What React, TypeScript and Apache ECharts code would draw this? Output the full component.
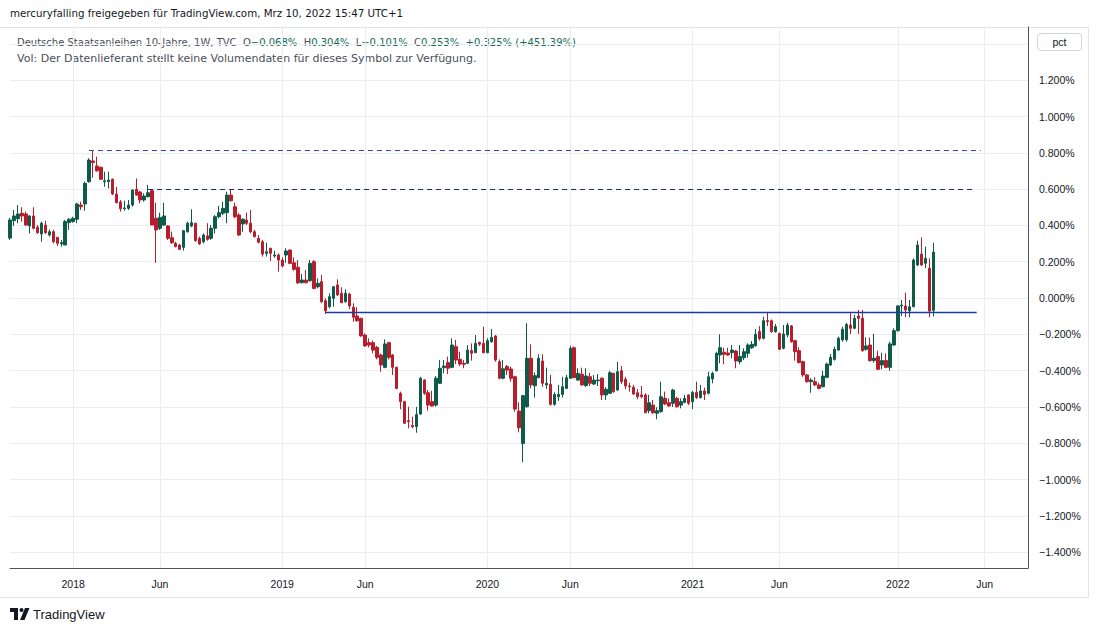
import React, { useEffect, useRef } from "react";
import * as echarts from "echarts";

// ---------- data ----------
const FIRST_WEEK = "2017-09-11";
const EMPTY_WEEKS_AFTER = 24;

// weekly candles: [open, close, low, high] in %
const candles2017 = [
  [0.33, 0.43, 0.32, 0.44], [0.426, 0.452, 0.397, 0.485], [0.437, 0.463, 0.412, 0.512],
  [0.467, 0.452, 0.421, 0.5], [0.463, 0.402, 0.397, 0.476], [0.397, 0.452, 0.356, 0.457],
  [0.452, 0.384, 0.378, 0.5], [0.39, 0.36, 0.353, 0.402], [0.353, 0.412, 0.31, 0.421],
  [0.402, 0.36, 0.353, 0.426], [0.347, 0.365, 0.338, 0.378], [0.365, 0.31, 0.301, 0.375],
  [0.334, 0.301, 0.287, 0.338], [0.298, 0.305, 0.283, 0.32], [0.292, 0.421, 0.292, 0.43],
  [0.415, 0.434, 0.375, 0.439],
];
const candles2018 = [
  [0.421, 0.439, 0.415, 0.448], [0.434, 0.518, 0.412, 0.525], [0.512, 0.503, 0.485, 0.531],
  [0.518, 0.632, 0.481, 0.641], [0.641, 0.76, 0.635, 0.77], [0.755, 0.746, 0.663, 0.812],
  [0.727, 0.701, 0.696, 0.779], [0.72, 0.654, 0.65, 0.724], [0.641, 0.646, 0.613, 0.696],
  [0.641, 0.65, 0.604, 0.696], [0.654, 0.573, 0.567, 0.659], [0.573, 0.525, 0.522, 0.613],
  [0.529, 0.492, 0.476, 0.54], [0.492, 0.496, 0.481, 0.536], [0.494, 0.512, 0.485, 0.54],
  [0.512, 0.595, 0.503, 0.599], [0.599, 0.567, 0.562, 0.659], [0.584, 0.54, 0.522, 0.591],
  [0.54, 0.562, 0.531, 0.577], [0.558, 0.58, 0.555, 0.623], [0.591, 0.402, 0.402, 0.595],
  [0.439, 0.375, 0.194, 0.525], [0.384, 0.444, 0.375, 0.47], [0.402, 0.452, 0.397, 0.525],
  [0.397, 0.329, 0.32, 0.402], [0.332, 0.305, 0.298, 0.365], [0.301, 0.283, 0.279, 0.31],
  [0.292, 0.268, 0.264, 0.298], [0.279, 0.371, 0.261, 0.375], [0.365, 0.412, 0.36, 0.421],
  [0.397, 0.415, 0.39, 0.489], [0.412, 0.316, 0.31, 0.415], [0.329, 0.298, 0.292, 0.338],
  [0.31, 0.347, 0.301, 0.356], [0.342, 0.323, 0.316, 0.412], [0.329, 0.384, 0.32, 0.402],
  [0.384, 0.448, 0.356, 0.457], [0.448, 0.47, 0.439, 0.507], [0.467, 0.494, 0.457, 0.531],
  [0.47, 0.567, 0.412, 0.586], [0.567, 0.536, 0.531, 0.599], [0.503, 0.448, 0.439, 0.525],
  [0.457, 0.347, 0.342, 0.467], [0.408, 0.434, 0.365, 0.439], [0.43, 0.412, 0.402, 0.47],
  [0.412, 0.365, 0.356, 0.485], [0.365, 0.338, 0.334, 0.375], [0.329, 0.307, 0.301, 0.347],
  [0.31, 0.242, 0.228, 0.32], [0.246, 0.255, 0.228, 0.305], [0.274, 0.246, 0.204, 0.277],
  [0.231, 0.237, 0.222, 0.259], [0.237, 0.209, 0.145, 0.246],
];
const candles2019 = [
  [0.209, 0.176, 0.169, 0.224], [0.237, 0.259, 0.194, 0.274], [0.264, 0.191, 0.187, 0.268],
  [0.194, 0.158, 0.15, 0.224], [0.169, 0.084, 0.077, 0.209], [0.084, 0.099, 0.081, 0.132],
  [0.099, 0.084, 0.081, 0.154], [0.095, 0.191, 0.09, 0.209], [0.2, 0.053, 0.048, 0.209],
  [0.062, 0.081, 0.053, 0.108], [0.09, -0.02, -0.029, 0.127], [-0.015, -0.07, -0.088, -0.002],
  [-0.048, 0.007, -0.057, 0.026], [-0.002, 0.062, -0.048, 0.066], [0.072, 0.017, 0.011, 0.103],
  [0.026, -0.026, -0.029, 0.059], [-0.02, 0.026, -0.026, 0.048], [0.022, -0.044, -0.062, 0.029],
  [-0.051, -0.106, -0.131, -0.029], [-0.099, -0.125, -0.131, -0.051], [-0.112, -0.209, -0.213, -0.109],
  [-0.204, -0.264, -0.268, -0.195], [-0.246, -0.259, -0.272, -0.222], [-0.246, -0.287, -0.305, -0.235],
  [-0.272, -0.327, -0.338, -0.264], [-0.314, -0.369, -0.406, -0.305], [-0.382, -0.253, -0.387, -0.228],
  [-0.246, -0.327, -0.338, -0.241], [-0.314, -0.382, -0.424, -0.309], [-0.382, -0.498, -0.503, -0.378],
  [-0.525, -0.571, -0.613, -0.516], [-0.571, -0.69, -0.694, -0.566], [-0.676, -0.681, -0.718, -0.599],
  [-0.702, -0.709, -0.718, -0.654], [-0.709, -0.642, -0.742, -0.6], [-0.639, -0.442, -0.645, -0.434],
  [-0.452, -0.525, -0.534, -0.448], [-0.522, -0.59, -0.62, -0.507], [-0.571, -0.595, -0.599, -0.511],
  [-0.59, -0.442, -0.599, -0.43], [-0.47, -0.387, -0.474, -0.342], [-0.384, -0.375, -0.415, -0.342],
  [-0.356, -0.387, -0.419, -0.323], [-0.382, -0.259, -0.387, -0.222], [-0.268, -0.342, -0.364, -0.231],
  [-0.338, -0.364, -0.375, -0.296], [-0.36, -0.365, -0.387, -0.342], [-0.36, -0.287, -0.364, -0.259],
  [-0.29, -0.305, -0.345, -0.25], [-0.301, -0.25, -0.305, -0.204], [-0.244, -0.255, -0.264, -0.241],
  [-0.25, -0.301, -0.305, -0.158],
];
const candles2020 = [
  [-0.301, -0.235, -0.305, -0.222], [-0.241, -0.217, -0.246, -0.171], [-0.209, -0.342, -0.351, -0.204],
  [-0.351, -0.442, -0.448, -0.338], [-0.442, -0.39, -0.448, -0.342], [-0.378, -0.397, -0.424, -0.369],
  [-0.391, -0.442, -0.461, -0.378], [-0.434, -0.612, -0.626, -0.428], [-0.623, -0.715, -0.74, -0.575],
  [-0.801, -0.538, -0.905, -0.534], [-0.599, -0.332, -0.604, -0.139], [-0.332, -0.479, -0.498, -0.255],
  [-0.483, -0.428, -0.549, -0.41], [-0.439, -0.332, -0.442, -0.31], [-0.347, -0.47, -0.489, -0.31],
  [-0.479, -0.47, -0.501, -0.384], [-0.476, -0.586, -0.593, -0.424], [-0.586, -0.531, -0.593, -0.52],
  [-0.544, -0.531, -0.567, -0.479], [-0.531, -0.489, -0.549, -0.434], [-0.498, -0.439, -0.501, -0.424],
  [-0.442, -0.277, -0.446, -0.263], [-0.274, -0.439, -0.442, -0.268], [-0.452, -0.415, -0.457, -0.387],
  [-0.42, -0.479, -0.483, -0.384], [-0.483, -0.43, -0.489, -0.387], [-0.434, -0.47, -0.485, -0.412],
  [-0.474, -0.452, -0.479, -0.424], [-0.456, -0.452, -0.485, -0.419], [-0.442, -0.534, -0.562, -0.437],
  [-0.534, -0.503, -0.562, -0.492], [-0.525, -0.412, -0.529, -0.401], [-0.415, -0.516, -0.522, -0.412],
  [-0.507, -0.406, -0.512, -0.351], [-0.401, -0.461, -0.474, -0.375], [-0.448, -0.485, -0.503, -0.434],
  [-0.485, -0.489, -0.516, -0.467], [-0.492, -0.529, -0.534, -0.479], [-0.522, -0.544, -0.558, -0.503],
  [-0.534, -0.544, -0.553, -0.485], [-0.534, -0.632, -0.635, -0.525], [-0.621, -0.577, -0.635, -0.534],
  [-0.59, -0.632, -0.639, -0.562], [-0.635, -0.621, -0.668, -0.602], [-0.626, -0.544, -0.632, -0.461],
  [-0.553, -0.584, -0.59, -0.516], [-0.577, -0.595, -0.599, -0.553], [-0.58, -0.507, -0.6, -0.5],
  [-0.553, -0.599, -0.604, -0.544], [-0.59, -0.571, -0.608, -0.553], [-0.575, -0.553, -0.58, -0.534],
  [-0.534, -0.58, -0.59, -0.531],
];
const candles2021 = [
  [-0.571, -0.52, -0.612, -0.512], [-0.52, -0.549, -0.556, -0.461], [-0.549, -0.512, -0.553, -0.479],
  [-0.512, -0.531, -0.562, -0.494], [-0.525, -0.434, -0.531, -0.406], [-0.446, -0.415, -0.47, -0.406],
  [-0.402, -0.305, -0.402, -0.296], [-0.314, -0.274, -0.36, -0.2], [-0.299, -0.31, -0.365, -0.274],
  [-0.303, -0.314, -0.318, -0.274], [-0.301, -0.287, -0.332, -0.259], [-0.292, -0.347, -0.387, -0.287],
  [-0.351, -0.323, -0.365, -0.259], [-0.329, -0.296, -0.342, -0.277], [-0.305, -0.259, -0.329, -0.25],
  [-0.274, -0.255, -0.281, -0.237], [-0.263, -0.2, -0.268, -0.171], [-0.185, -0.224, -0.235, -0.155],
  [-0.222, -0.125, -0.228, -0.103], [-0.125, -0.13, -0.154, -0.081], [-0.125, -0.186, -0.191, -0.118],
  [-0.186, -0.158, -0.191, -0.143], [-0.195, -0.283, -0.287, -0.191], [-0.277, -0.198, -0.283, -0.149],
  [-0.204, -0.149, -0.217, -0.136], [-0.154, -0.241, -0.246, -0.149], [-0.235, -0.296, -0.345, -0.231],
  [-0.29, -0.356, -0.36, -0.272], [-0.351, -0.424, -0.434, -0.345], [-0.424, -0.461, -0.467, -0.419],
  [-0.461, -0.452, -0.522, -0.442], [-0.461, -0.479, -0.485, -0.437], [-0.479, -0.498, -0.503, -0.467],
  [-0.489, -0.43, -0.492, -0.401], [-0.437, -0.364, -0.442, -0.356], [-0.369, -0.327, -0.375, -0.309],
  [-0.338, -0.283, -0.345, -0.268], [-0.287, -0.222, -0.29, -0.213], [-0.231, -0.172, -0.241, -0.158],
  [-0.23, -0.146, -0.241, -0.137], [-0.149, -0.167, -0.198, -0.084], [-0.167, -0.112, -0.172, -0.094],
  [-0.099, -0.112, -0.198, -0.066], [-0.112, -0.29, -0.296, -0.066], [-0.283, -0.264, -0.29, -0.217],
  [-0.259, -0.345, -0.351, -0.217], [-0.345, -0.332, -0.356, -0.198], [-0.323, -0.393, -0.397, -0.29],
  [-0.369, -0.345, -0.393, -0.301], [-0.345, -0.382, -0.387, -0.305], [-0.382, -0.253, -0.401, -0.241],
  [-0.259, -0.18, -0.264, -0.167],
];
const candles2022 = [
  [-0.18, -0.044, -0.186, -0.039], [-0.044, -0.039, -0.099, -0.011], [-0.044, -0.066, -0.106, 0.029],
  [-0.07, -0.048, -0.106, -0.011], [-0.048, 0.209, -0.051, 0.219], [0.182, 0.292, 0.176, 0.316],
  [0.242, 0.182, 0.176, 0.334], [0.191, 0.219, 0.164, 0.283], [0.164, -0.072, -0.106, 0.219],
  [-0.068, 0.253, -0.101, 0.304],
];

// horizontal drawn levels: [value, startWeekIndex, endWeekIndex]
const peakLevel = [0.812, 20, 246];
const resistanceLevel = [0.598, 35, 244];
const supportLevel = [-0.08, 80, 245];

// y axis ticks
const Y_MIN = -1.4;
const Y_MAX = 1.4;
const Y_STEP = 0.2;

// texts
const TITLE = "mercuryfalling freigegeben für TradingView.com, Mrz 10, 2022 15:47 UTC+1";
const SYMBOL = "Deutsche Staatsanleihen 10-Jahre, 1W, TVC";
const LAST_O = "−0.068%";
const LAST_H = "0.304%";
const LAST_L = "−0.101%";
const LAST_C = "0.253%";
const LAST_CHG = "+0.325% (+451.39%)";
const VOL_TEXT = "Vol: Der Datenlieferant stellt keine Volumendaten für dieses Symbol zur Verfügung.";

const allCandles = [
  ...candles2017, ...candles2018, ...candles2019, ...candles2020, ...candles2021, ...candles2022,
];

function buildWeeks(): string[] {
  const out: string[] = [];
  const t0 = Date.parse(FIRST_WEEK + "T00:00:00Z");
  const n = allCandles.length + EMPTY_WEEKS_AFTER;
  for (let i = 0; i < n; i++) out.push(new Date(t0 + i * 7 * 86400000).toISOString().slice(0, 10));
  return out;
}

const FONT = "'Liberation Sans', Arial, sans-serif";
const TFONT = "'DejaVu Sans', Verdana, sans-serif";
const GREEN = "#0e5b49";
const RED = "#b71d2a";
const TEXT = "#131722";
const GRIDC = "#ebedf1";

export default function App() {
  const ref = useRef<HTMLDivElement>(null);

  useEffect(() => {
    if (!ref.current) return;
    const chart = echarts.init(ref.current, undefined, { renderer: "svg" });
    const weeks = buildWeeks();
    const tickLabel = (i: number): string => {
      if (i <= 0 || i >= weeks.length) return "";
      const d = new Date(weeks[i] + "T00:00:00Z");
      const p = new Date(weeks[i - 1] + "T00:00:00Z");
      if (d.getUTCFullYear() !== p.getUTCFullYear()) return String(d.getUTCFullYear());
      if (d.getUTCMonth() !== p.getUTCMonth() && d.getUTCMonth() === 5) return "Jun";
      return "";
    };
    const fmtPct = (v: number) => {
      if (Math.abs(v) < 1e-9) return "0.000%";
      const s = Math.abs(v).toFixed(3) + "%";
      return v < 0 ? "−" + s : s;
    };
    const level = (lv: number[], color: string, type: any, width: number) => [
      { coord: [weeks[lv[1]], lv[0]], lineStyle: { color, type, width } },
      { coord: [weeks[lv[2]], lv[0]] },
    ];

    const option: any = {
      animation: false,
      backgroundColor: "#ffffff",
      grid: [
        { left: 10, right: 72, top: 27, bottom: 64 },
        { left: 10, right: 72, top: 43.9, bottom: 79.9 },
      ],
      xAxis: [
        {
          type: "category",
          gridIndex: 0,
          data: weeks,
          boundaryGap: false,
          axisLine: { show: true, lineStyle: { color: "#50535e", width: 1 } },
          axisTick: { show: false },
          axisLabel: {
            interval: (i: number) => tickLabel(i) !== "",
            formatter: (_v: string, i: number) => tickLabel(i),
            color: TEXT,
            fontSize: 10.5,
            fontFamily: FONT,
            margin: 10,
          },
          splitLine: {
            show: true,
            interval: (i: number) => tickLabel(i) !== "",
            lineStyle: { color: GRIDC, width: 1 },
          },
        },
        {
          type: "category",
          gridIndex: 1,
          data: weeks,
          boundaryGap: false,
          show: false,
        },
      ],
      yAxis: [
        {
          type: "value",
          gridIndex: 0,
          position: "right",
          min: 0,
          max: 1,
          axisLine: { show: true, lineStyle: { color: "#50535e", width: 1 } },
          axisLabel: { show: false },
          axisTick: { show: false },
          splitLine: { show: false },
        },
        {
          type: "value",
          gridIndex: 1,
          position: "right",
          min: Y_MIN,
          max: Y_MAX,
          interval: Y_STEP,
          axisLine: { show: false },
          axisTick: { show: false },
          axisLabel: {
            formatter: (v: number) => (Math.abs(v - Y_MAX) < 1e-9 ? "" : fmtPct(v)),
            color: TEXT,
            fontSize: 10.5,
            fontFamily: FONT,
            margin: 11,
          },
          splitLine: { show: true, lineStyle: { color: GRIDC, width: 1 } },
        },
      ],
      series: [
        {
          type: "candlestick",
          xAxisIndex: 1,
          yAxisIndex: 1,
          data: allCandles,
          barWidth: 3,
          itemStyle: {
            color: GREEN,
            color0: RED,
            borderColor: GREEN,
            borderColor0: RED,
            borderWidth: 1,
          },
          markLine: {
            silent: true,
            symbol: ["none", "none"],
            label: { show: false },
            data: [
              level(peakLevel, "#2747c9", [5, 4], 1),
              level(resistanceLevel, "#1f2a66", [5, 4], 1),
              level(supportLevel, "#1b3aa6", "solid", 1.3),
            ],
          },
        },
      ],
      graphic: {
        elements: [
          { type: "line", shape: { x1: 0, y1: 27.5, x2: 1088, y2: 27.5 }, style: { stroke: "#e0e3eb", lineWidth: 1 } },
          { type: "line", shape: { x1: 0, y1: 597.5, x2: 1088, y2: 597.5 }, style: { stroke: "#e0e3eb", lineWidth: 1 } },
          { type: "line", shape: { x1: 1088.5, y1: 27, x2: 1088.5, y2: 598 }, style: { stroke: "#e0e3eb", lineWidth: 1 } },
          {
            type: "text",
            x: 10,
            y: 13,
            style: {
              text: TITLE,
              fill: TEXT,
              fontSize: 10.3,
              fontFamily: TFONT,
              verticalAlign: "middle",
            },
          },
          {
            type: "text",
            x: 17,
            y: 42,
            style: {
              text:
                `{g|${SYMBOL}  O}{v|${LAST_O}}{g|  H}{v|${LAST_H}}{g|  L}{v|${LAST_L}}` +
                `{g|  C}{v|${LAST_C}}{v|  ${LAST_CHG}}`,
              verticalAlign: "middle",
              rich: {
                g: { fill: "#4a4e59", fontSize: 10, fontFamily: TFONT },
                v: { fill: "#136b56", fontSize: 10, fontFamily: TFONT },
              },
            },
          },
          {
            type: "text",
            x: 17,
            y: 58,
            style: {
              text: VOL_TEXT,
              fill: "#4a4e59",
              fontSize: 11,
              fontFamily: TFONT,
              verticalAlign: "middle",
            },
          },
          {
            type: "rect",
            shape: { x: 1037.5, y: 33.5, width: 44, height: 17, r: 3 },
            style: { fill: "#ffffff", stroke: "#d1d4dc", lineWidth: 1 },
          },
          {
            type: "text",
            x: 1059.5,
            y: 42,
            style: { text: "pct", fill: TEXT, fontSize: 10.5, fontFamily: FONT, align: "center", verticalAlign: "middle" },
          },
          { type: "rect", shape: { x: 10, y: 608, width: 8, height: 4 }, style: { fill: TEXT } },
          { type: "rect", shape: { x: 14, y: 608, width: 4, height: 12 }, style: { fill: TEXT } },
          { type: "circle", shape: { cx: 21.5, cy: 610, r: 2 }, style: { fill: TEXT } },
          {
            type: "polygon",
            shape: { points: [[25, 608], [29.5, 608], [24.5, 620], [20, 620]] },
            style: { fill: TEXT },
          },
          {
            type: "text",
            x: 33,
            y: 614,
            style: { text: "TradingView", fill: TEXT, fontSize: 13, fontFamily: FONT, verticalAlign: "middle" },
          },
        ],
      },
    };
    chart.setOption(option);
    return () => chart.dispose();
  }, []);

  return (
    <div
      ref={ref}
      style={{ position: "absolute", left: 0, top: 0, width: 1100, height: 632, background: "#fff" }}
    />
  );
}
